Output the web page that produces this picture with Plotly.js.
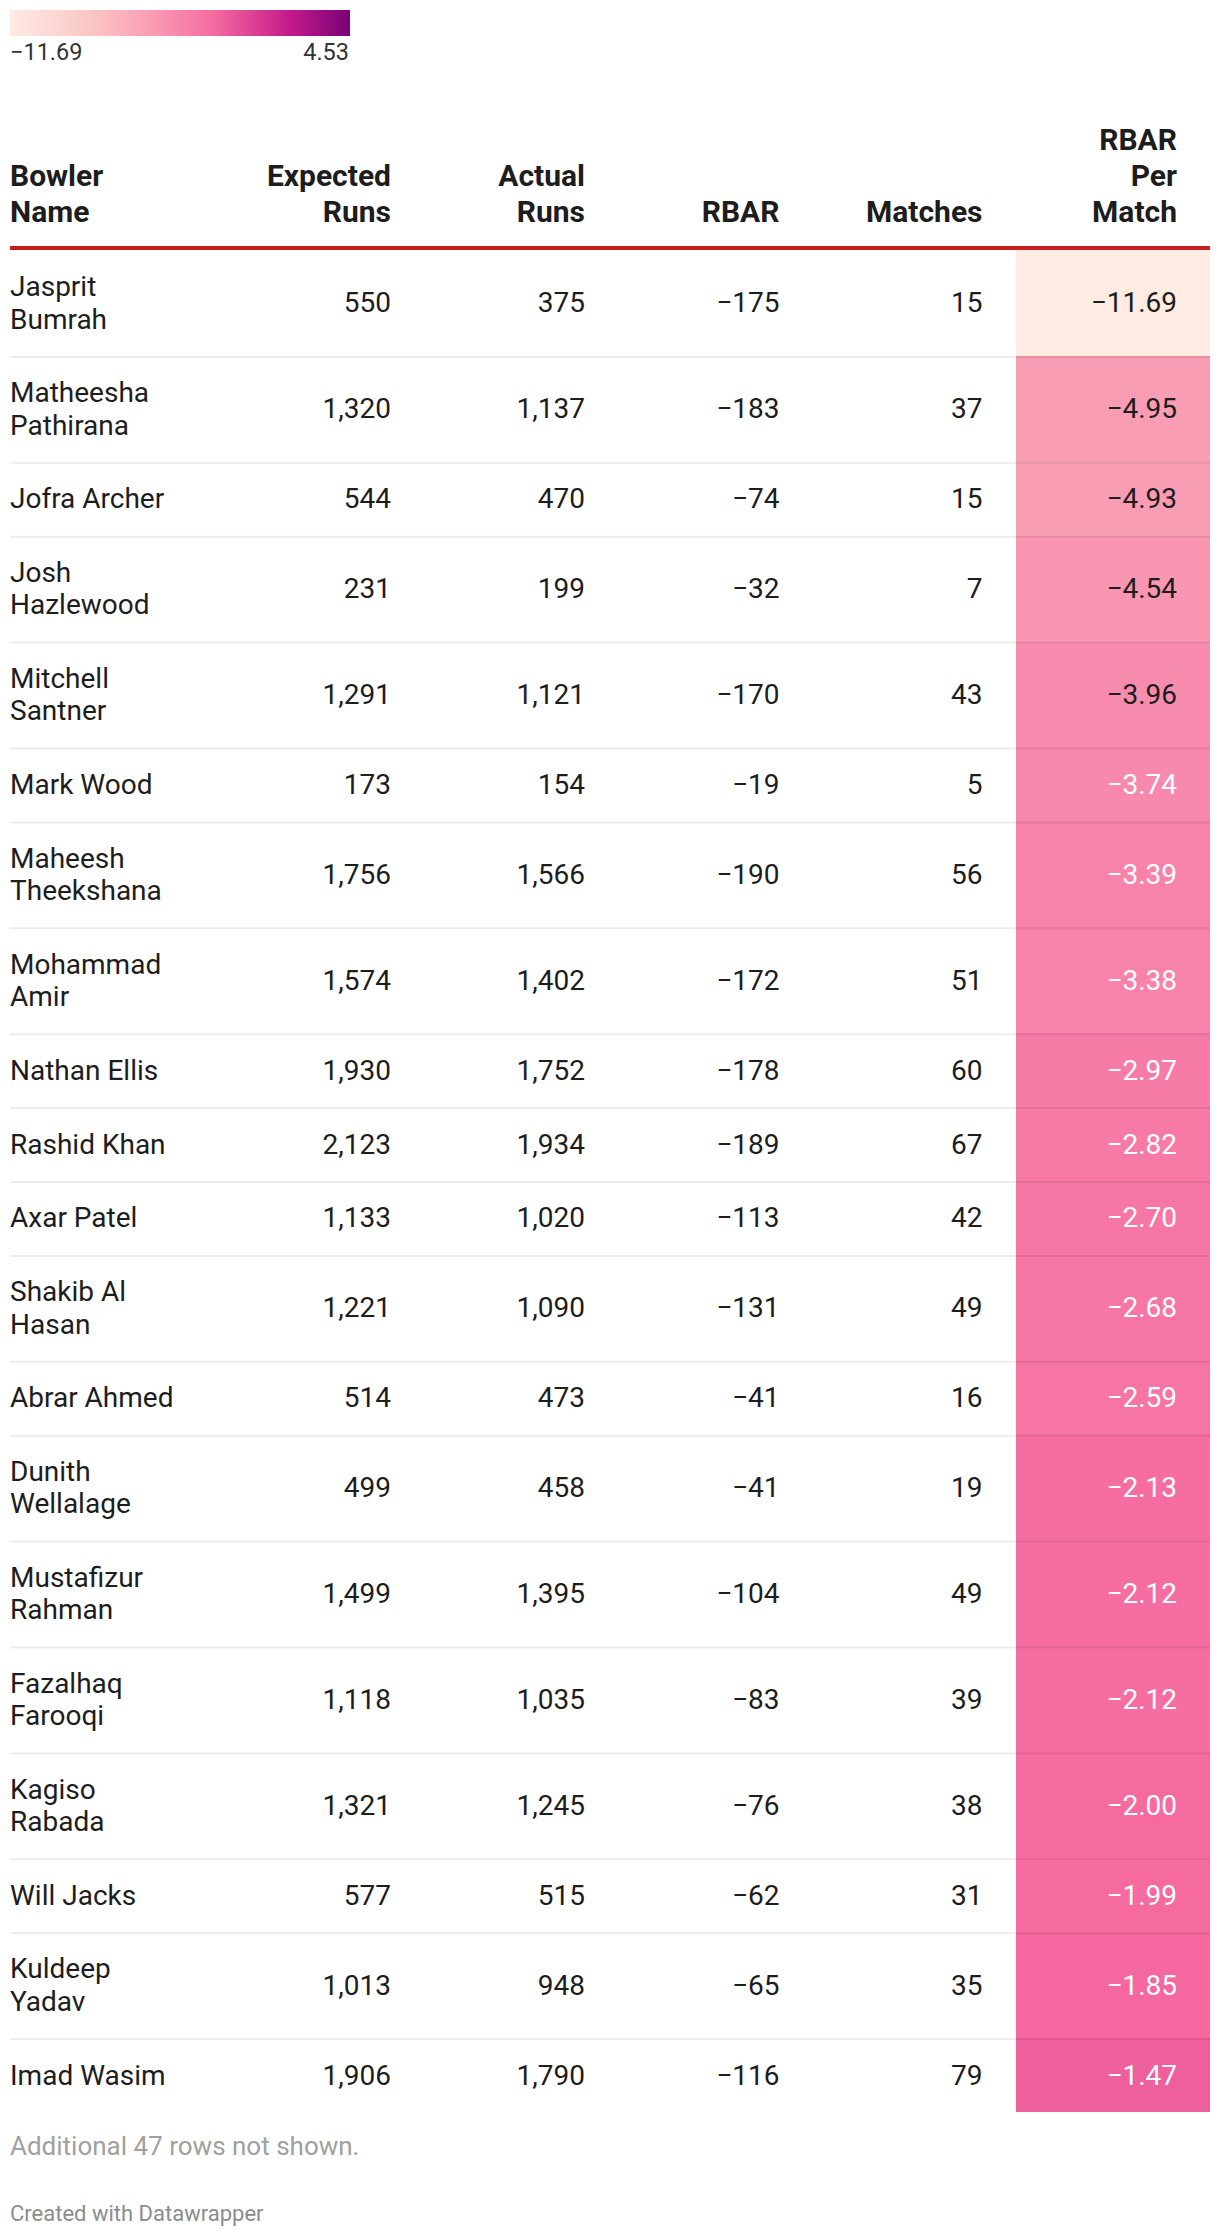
<!DOCTYPE html>
<html>
<head>
<meta charset="utf-8">
<script src="https://cdn.plot.ly/plotly-3.0.1.min.js"></script>
<style>
html,body{margin:0;padding:0;background:#ffffff;}
#chart{width:1220px;height:2238px;}
</style>
</head>
<body>
<div id="chart"></div>
<script>
// ---------------- DATA ----------------
const bowlers = [
  "Jasprit<br>Bumrah", "Matheesha<br>Pathirana", "Jofra Archer", "Josh<br>Hazlewood",
  "Mitchell<br>Santner", "Mark Wood", "Maheesh<br>Theekshana", "Mohammad<br>Amir",
  "Nathan Ellis", "Rashid Khan", "Axar Patel", "Shakib Al<br>Hasan", "Abrar Ahmed",
  "Dunith<br>Wellalage", "Mustafizur<br>Rahman", "Fazalhaq<br>Farooqi", "Kagiso<br>Rabada",
  "Will Jacks", "Kuldeep<br>Yadav", "Imad Wasim"
];
const expectedRuns = [550, 1320, 544, 231, 1291, 173, 1756, 1574, 1930, 2123, 1133, 1221, 514, 499, 1499, 1118, 1321, 577, 1013, 1906];
const actualRuns   = [375, 1137, 470, 199, 1121, 154, 1566, 1402, 1752, 1934, 1020, 1090, 473, 458, 1395, 1035, 1245, 515, 948, 1790];
const rbar         = [-175, -183, -74, -32, -170, -19, -190, -172, -178, -189, -113, -131, -41, -41, -104, -83, -76, -62, -65, -116];
const matches      = [15, 37, 15, 7, 43, 5, 56, 51, 60, 67, 42, 49, 16, 19, 49, 39, 38, 31, 35, 79];
const rbarPerMatch = [-11.69, -4.95, -4.93, -4.54, -3.96, -3.74, -3.39, -3.38, -2.97, -2.82, -2.70, -2.68, -2.59, -2.13, -2.12, -2.12, -2.00, -1.99, -1.85, -1.47];
const headers = ["Bowler<br>Name", "Expected<br>Runs", "Actual<br>Runs", "RBAR", "Matches", "RBAR<br>Per<br>Match"];
const scaleMin = -11.69;
const scaleMax = 4.53;
const footnote = "Additional 47 rows not shown.";
const credit = "Created with Datawrapper";

// ---------------- LAYOUT CONSTANTS ----------------
const W = 1220, H = 2238;
const FONT = "Roboto, 'Noto Sans', sans-serif";
const tableLeft = 10, tableRight = 1210;
const colRight = [null, 391, 585, 779.5, 982.5, 1177];
const heatLeft = 1016;
const bodyTop = 250;
const rowBase = 73.9, lineExtra = 32;
const lineStep = 32.5;
const headerStep = 36, headerLastY = 212;
const YOFF = 2.5;
const bodySize = 28, headerSize = 30;
const textDark = "#1d1d1d";

const colorscale = [
  [0, "#feebe2"], [0.25, "#fbc4c4"], [0.42, "#f99cb4"],
  [0.6, "#f56aa0"], [0.82, "#c51b8a"], [1, "#7a0177"]
];

function fmtInt(n) {
  return (n < 0 ? "\u2212" : "") + Math.abs(n).toLocaleString("en-US");
}
function fmt2(v) {
  return (v < 0 ? "\u2212" : "") + Math.abs(v).toFixed(2);
}

// row geometry
const lineCounts = bowlers.map(b => b.split("<br>").length);
const bounds = [bodyTop];
lineCounts.forEach(L => bounds.push(bounds[bounds.length - 1] + rowBase + (L - 1) * lineExtra));
const centers = lineCounts.map((L, i) => (bounds[i] + bounds[i + 1]) / 2 + YOFF);

function textTrace(xs, ys, texts, pos, size, color, weight) {
  return {
    type: "scatter", mode: "text", x: xs, y: ys, text: texts,
    textposition: pos,
    textfont: {family: FONT, size: size, color: color, weight: weight || 400},
    hoverinfo: "skip", showlegend: false, cliponaxis: false
  };
}

const traces = [];

// colored cells through the colour scale
traces.push({
  type: "heatmap",
  x: [heatLeft, tableRight],
  y: bounds,
  z: rbarPerMatch.map(v => [v]),
  zmin: scaleMin, zmax: scaleMax,
  colorscale: colorscale,
  zsmooth: false,
  hoverinfo: "skip",
  showscale: true,
  colorbar: {
    orientation: "h",
    xref: "paper", yref: "paper",
    x: 10 / W, xanchor: "left",
    y: 1 - 10 / H, yanchor: "top",
    len: 340, lenmode: "pixels",
    thickness: 26, thicknessmode: "pixels",
    outlinewidth: 0, borderwidth: 0,
    xpad: 0, ypad: 0,
    showticklabels: false, ticks: ""
  }
});

// row separators
const sx = [], sy = [];
for (let i = 1; i < bounds.length - 1; i++) {
  sx.push(tableLeft, tableRight, null);
  sy.push(bounds[i] + 1, bounds[i] + 1, null);
}
traces.push({
  type: "scatter", mode: "lines", x: sx, y: sy,
  line: {color: "rgba(0,0,0,0.075)", width: 2},
  hoverinfo: "skip", showlegend: false
});

// bowler names (each wrapped line)
const nx = [], ny = [], nt = [];
bowlers.forEach((b, i) => {
  const parts = b.split("<br>");
  parts.forEach((p, j) => {
    nx.push(tableLeft);
    ny.push(centers[i] + (j - (parts.length - 1) / 2) * lineStep);
    nt.push(p);
  });
});
traces.push(textTrace(nx, ny, nt, "middle right", bodySize, textDark));

// numeric columns
const numCols = [expectedRuns.map(fmtInt), actualRuns.map(fmtInt), rbar.map(fmtInt), matches.map(fmtInt)];
numCols.forEach((col, k) => {
  traces.push(textTrace(col.map(() => colRight[k + 1]), centers, col, "middle left", bodySize, textDark));
});
// RBAR per match values
traces.push(textTrace(
  rbarPerMatch.map(() => colRight[5]), centers, rbarPerMatch.map(fmt2), "middle left", bodySize,
  rbarPerMatch.map(v => v < -3.85 ? textDark : "#ffffff")
));

// headers
const hx = [], hy = [], ht = [], hp = [];
headers.forEach((h, k) => {
  const parts = h.split("<br>");
  parts.forEach((p, j) => {
    const fromBottom = parts.length - 1 - j;
    hy.push(headerLastY + YOFF - fromBottom * headerStep);
    ht.push(p);
    if (k === 0) { hx.push(tableLeft); hp.push("middle right"); }
    else { hx.push(colRight[k]); hp.push("middle left"); }
  });
});
traces.push(textTrace(hx, hy, ht, hp, headerSize, textDark, 700));

// legend labels
traces.push(textTrace([10], [53.7], [fmt2(scaleMin)], "middle right", 23.5, "#333333"));
traces.push(textTrace([349], [53.7], [fmt2(scaleMax)], "middle left", 23.5, "#333333"));

// footer
traces.push(textTrace([tableLeft], [2148.3], [footnote], "middle right", 26, "#a0a0a0"));
traces.push(textTrace([tableLeft], [2215.5], [credit], "middle right", 22, "#8c8c8c"));

const layout = {
  width: W, height: H,
  margin: {l: 0, r: 0, t: 0, b: 0, pad: 0, autoexpand: false},
  paper_bgcolor: "#ffffff", plot_bgcolor: "#ffffff",
  xaxis: {range: [0, W], visible: false, fixedrange: true},
  yaxis: {range: [H, 0], visible: false, fixedrange: true},
  showlegend: false,
  hovermode: false,
  font: {family: FONT},
  shapes: [{
    type: "line", xref: "x", yref: "y",
    x0: tableLeft, x1: tableRight, y0: 248, y1: 248,
    line: {color: "#c8201f", width: 4}
  }]
};

Plotly.newPlot("chart", traces, layout, {staticPlot: true, displayModeBar: false});
</script>
</body>
</html>
